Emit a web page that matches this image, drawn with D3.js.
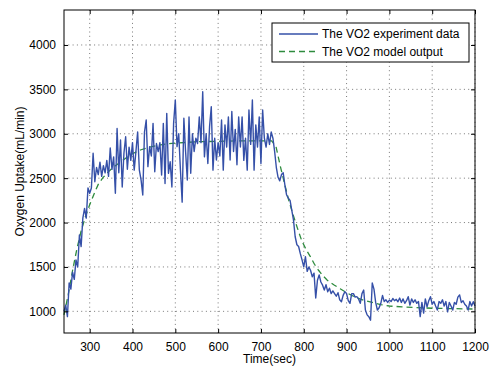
<!DOCTYPE html>
<html><head><meta charset="utf-8">
<script src="https://cdn.jsdelivr.net/npm/d3@7"></script>
<style>body{margin:0;background:#fff}svg{display:block}text{font-family:Arial,"Liberation Sans",sans-serif}</style>
</head><body><svg id="c" width="495" height="369"></svg>
<script>
const xTicks = [300,400,500,600,700,800,900,1000,1100,1200];
const yTicks = [1000,1500,2000,2500,3000,3500,4000];
const seriesNames = ["The VO2 experiment data","The VO2 model output"];
const experimentData = [
[240,1000],[244,1070],[248,940],[252,1320],[256,1250],[260,1440],[264,1360],[268,1580],[272,1500],[276,1860],
[280,1730],[284,2050],[288,2160],[292,2050],[296,2390],[300,2330],[304,2390],[308,2780],[312,2460],[316,2620],
[320,2540],[324,2680],[328,2520],[332,2640],[336,2560],[340,2700],[344,2520],[348,2840],[352,2600],[356,2740],
[360,2330],[364,3060],[368,2560],[372,2930],[376,2400],[380,2780],[384,2966],[388,2600],[392,2850],[396,2700],
[400,2900],[404,2590],[408,2800],[412,3020],[416,2590],[420,2480],[424,2310],[428,3020],[432,3155],[436,2630],
[440,2855],[444,2750],[448,3117],[452,2573],[456,2890],[460,2800],[464,2900],[468,2535],[472,3117],[476,2440],
[480,3230],[484,2555],[488,2685],[492,2400],[496,3117],[500,3380],[504,2855],[508,3000],[512,2590],[516,2230],
[520,3175],[524,2800],[528,2479],[532,3190],[536,2555],[540,3000],[544,2800],[548,2950],[552,2890],[556,3190],
[560,2900],[564,3473],[568,2740],[572,3000],[576,2665],[580,3080],[584,3305],[588,2590],[592,2950],[596,2704],
[600,2900],[604,2750],[608,3155],[612,2590],[616,3100],[620,2850],[624,3190],[628,2704],[632,3250],[636,2800],
[640,3050],[644,2650],[648,3190],[652,2850],[656,3190],[660,2700],[664,2950],[668,2590],[672,3267],[676,2880],
[680,3380],[684,2590],[688,3100],[692,2850],[696,3190],[700,2665],[704,3267],[708,2950],[712,2850],[716,3000],
[720,2880],[724,3020],[728,2950],[732,2800],[736,2620],[740,2510],[744,2470],[748,2540],[752,2560],[756,2420],
[760,2310],[764,2275],[768,2250],[772,2140],[776,2030],[780,1840],[784,1750],[788,1730],[792,1650],[796,1580],
[800,1500],[804,1615],[808,1450],[812,1500],[816,1460],[820,1390],[824,1430],[828,1150],[832,1350],[836,1410],
[840,1330],[844,1295],[848,1240],[852,1300],[856,1220],[860,1260],[864,1200],[868,1230],[872,1200],[876,1170],
[880,1210],[884,1130],[888,1108],[892,1180],[896,1220],[900,1200],[904,1120],[908,1090],[912,1200],[916,1200],
[920,1160],[924,1165],[928,1140],[932,1090],[936,1200],[940,1240],[944,1015],[948,960],[952,940],[956,900],
[960,1320],[964,1250],[968,1100],[972,1015],[976,1040],[980,1090],[984,1180],[988,1110],[992,1130],[996,1100],
[1000,1127],[1004,1110],[1008,1145],[1012,1120],[1016,1135],[1020,1108],[1024,1150],[1028,1100],[1032,1140],[1036,1090],
[1040,1120],[1044,1165],[1048,1070],[1052,1140],[1056,1100],[1060,1130],[1064,1090],[1068,1110],[1072,940],[1076,1100],
[1080,980],[1084,1140],[1088,1050],[1092,1120],[1096,1165],[1100,1080],[1104,1110],[1108,1060],[1112,1015],[1116,1110],
[1120,1090],[1124,1130],[1128,1060],[1132,1110],[1136,995],[1140,1100],[1144,1060],[1148,1015],[1152,1100],[1156,1080],
[1160,1160],[1164,1185],[1168,1100],[1172,1120],[1176,1080],[1180,1060],[1184,1015],[1188,1110],[1192,1060],[1196,1108],
[1200,1060]
];
const modelData = [
[240,960],[250,1190],[260,1460],[270,1700],[280,1905],[290,2065],[300,2200],[310,2320],[320,2430],[330,2500],
[340,2555],[350,2600],[360,2640],[370,2675],[380,2710],[390,2745],[400,2775],[420,2820],[440,2850],[460,2870],
[480,2885],[500,2895],[550,2910],[600,2915],[650,2920],[700,2920],[725,2920],[735,2860],[745,2640],[755,2440],
[765,2250],[775,2090],[785,1940],[795,1800],[805,1700],[815,1620],[825,1530],[835,1460],[845,1400],[855,1350],
[870,1300],[885,1255],[900,1210],[920,1160],[940,1125],[960,1100],[980,1075],[1000,1060],[1030,1050],[1060,1042],
[1100,1035],[1150,1030],[1200,1026]
];

const svg = d3.select("#c");
const L=64, R=475, T=10, B=333;
const x = d3.scaleLinear().domain([240,1200]).range([L,R]);
const y = d3.scaleLinear().domain([756,4394]).range([B,T]);

// grid
const g = svg.append("g");
g.selectAll(".gx").data(xTicks).enter().append("line")
 .attr("x1",d=>x(d)).attr("x2",d=>x(d)).attr("y1",T).attr("y2",B)
 .attr("stroke","#555").attr("stroke-width",0.8).attr("stroke-dasharray","1,3.3");
g.selectAll(".gy").data(yTicks).enter().append("line")
 .attr("x1",L).attr("x2",R).attr("y1",d=>y(d)).attr("y2",d=>y(d))
 .attr("stroke","#555").attr("stroke-width",0.8).attr("stroke-dasharray","1,3.3");

// lines
const line = d3.line().x(d=>x(d[0])).y(d=>y(d[1]));
svg.append("path").datum(modelData).attr("d",line).attr("fill","none")
 .attr("stroke","#2e8b3e").attr("stroke-width",1.3).attr("stroke-dasharray","6,4");
svg.append("path").datum(experimentData).attr("d",line).attr("fill","none")
 .attr("stroke","#3550a8").attr("stroke-width",1.4).attr("stroke-linejoin","round");

// axes (ticks inward, box)
const fs = 12;
const axB = svg.append("g").attr("transform",`translate(0,${B})`)
 .call(d3.axisBottom(x).tickValues(xTicks).tickSize(-4).tickPadding(9).tickFormat(d3.format("d")));
const axT = svg.append("g").attr("transform",`translate(0,${T})`)
 .call(d3.axisTop(x).tickValues(xTicks).tickSize(-4).tickFormat(""));
const axL = svg.append("g").attr("transform",`translate(${L},0)`)
 .call(d3.axisLeft(y).tickValues(yTicks).tickSize(-4).tickPadding(8).tickFormat(d3.format("d")));
const axR = svg.append("g").attr("transform",`translate(${R},0)`)
 .call(d3.axisRight(y).tickValues(yTicks).tickSize(-4).tickFormat(""));
[axB,axT,axL,axR].forEach(a=>{
  a.select(".domain").remove();
  a.selectAll("line").attr("stroke","#000");
  a.selectAll("text").attr("font-size",fs).attr("fill","#000").attr("font-family","Arial, 'Liberation Sans', sans-serif");
});
svg.append("rect").attr("x",L).attr("y",T).attr("width",R-L).attr("height",B-T)
 .attr("fill","none").attr("stroke","#000").attr("stroke-width",1);

// labels
svg.append("text").attr("x",(L+R)/2).attr("y",363).attr("text-anchor","middle")
 .attr("font-size",fs).text("Time(sec)");
svg.append("text").attr("transform",`translate(24,${(T+B)/2}) rotate(-90)`).attr("text-anchor","middle")
 .attr("font-size",fs).text("Oxygen Uptake(mL/min)");

// legend
const lg = svg.append("g");
lg.append("rect").attr("x",272).attr("y",23).attr("width",197).attr("height",39)
 .attr("fill","#fff").attr("stroke","#000").attr("stroke-width",1);
const legStyles = [{c:"#3550a8",dash:null,w:1.3},{c:"#2e8b3e",dash:"6,4",w:1.3}];
seriesNames.forEach((n,i)=>{
  const yy = 34 + i*17.5;
  const ln = lg.append("line").attr("x1",279).attr("x2",318).attr("y1",yy).attr("y2",yy)
   .attr("stroke",legStyles[i].c).attr("stroke-width",legStyles[i].w);
  if(legStyles[i].dash) ln.attr("stroke-dasharray",legStyles[i].dash);
  lg.append("text").attr("x",322).attr("y",yy+4.3).attr("font-size",fs).text(n);
});
</script></body></html>
